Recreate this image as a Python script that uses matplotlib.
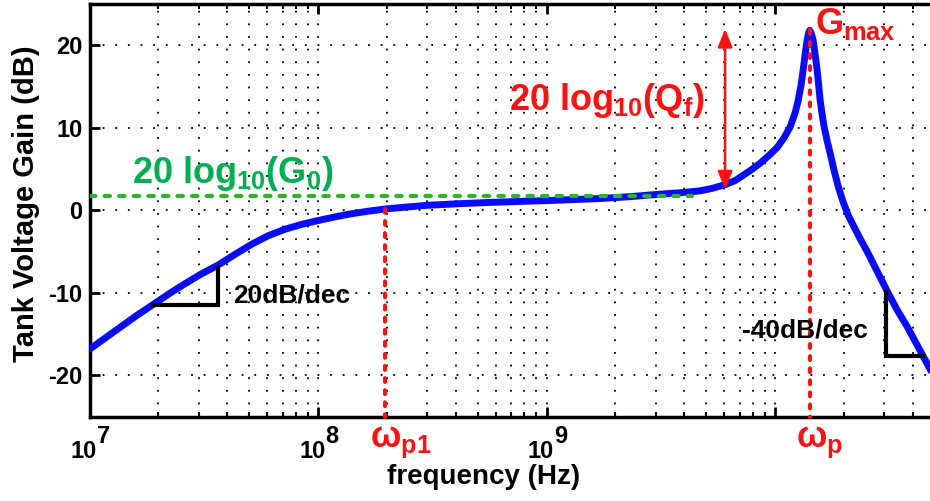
import matplotlib
matplotlib.use('Agg')
import matplotlib.pyplot as plt
from matplotlib.ticker import LogLocator, NullFormatter

plt.rcParams['font.family'] = ['Liberation Sans', 'DejaVu Sans']
plt.rcParams['font.weight'] = 'bold'
plt.rcParams['mathtext.fontset'] = 'custom'
plt.rcParams['mathtext.rm'] = 'Liberation Sans:bold'
plt.rcParams['mathtext.it'] = 'Liberation Sans:bold'
plt.rcParams['mathtext.bf'] = 'Liberation Sans:bold'
plt.rcParams['axes.unicode_minus'] = False

# ---- data ----
freq_hz = [1.000e7, 1.17e7, 1.36e7, 1.61e7, 1.94e7, 2.25e7, 2.62e7, 3.05e7,
           3.65e7, 4.33e7, 5.14e7, 6.04e7, 7.17e7, 8.51e7, 1.000e8, 1.187e8,
           1.380e8, 1.655e8, 1.965e8, 2.452e8, 3.091e8, 4.182e8, 5.657e8,
           7.656e8, 1.005e9, 1.333e9, 1.715e9, 2.320e9, 3.139e9, 3.839e9,
           4.697e9, 5.301e9, 6.042e9, 6.683e9, 7.029e9, 7.775e9, 8.600e9,
           9.320e9, 1.020e10, 1.095e10, 1.163e10, 1.223e10, 1.261e10,
           1.299e10, 1.326e10, 1.353e10, 1.380e10, 1.401e10, 1.416e10,
           1.437e10, 1.466e10, 1.496e10, 1.527e10, 1.550e10, 1.574e10,
           1.606e10, 1.638e10, 1.689e10, 1.741e10, 1.812e10, 1.887e10,
           1.984e10, 2.087e10, 2.217e10, 2.355e10, 2.527e10, 2.795e10,
           3.092e10, 3.420e10, 3.782e10, 4.100e10, 4.443e10, 5.015e10]
gain_db = [-16.85, -15.5, -14.2, -12.75, -11.25, -10.05, -8.9, -7.8,
           -6.65, -5.35, -4.1, -3.1, -2.3, -1.7, -1.25, -0.8,
           -0.45, -0.12, 0.15, 0.4, 0.62, 0.8, 0.95,
           1.07, 1.17, 1.3, 1.42, 1.65, 1.95, 2.12,
           2.35, 2.65, 3.1, 3.6, 4.0, 4.8, 5.7,
           6.55, 7.6, 8.8, 10.1, 11.8, 13.3,
           15.2, 17.0, 18.9, 20.6, 21.5, 21.8,
           21.5, 20.6, 18.9, 17.0, 15.2, 13.3,
           11.6, 10.1, 8.4, 6.9, 4.8, 2.9,
           1.0, -0.6, -2.05, -3.45, -5.0, -7.4,
           -9.8, -12.1, -14.1, -15.9, -17.7, -20.4]

g0_db = 1.75
g0_span_hz = [1.0e7, 4.34e9]
wp1_hz = 1.965e8
wp1_gain_db = 0.15
wp_hz = 1.416e10
gmax_db = 21.8
qf_arrow_hz = 6.04e9
qf_arrow_db = [2.5, 22.0]
slope1_x = [1.9e7, 3.65e7, 3.65e7]
slope1_y = [-11.5, -11.5, -6.9]
slope2_x = [3.06e10, 3.06e10, 4.45e10]
slope2_y = [-9.96, -17.7, -17.7]

x_decades = [1e7, 1e8, 1e9, 1e10]
x_exponents = ['7', '8', '9', '']
y_ticks = [-20, -10, 0, 10, 20]
y_ticklabels = ['-20', '-10', '0', '10', '20']
x_limits = (1e7, 4.76e10)
y_limits = (-25, 25)

# ---- figure ----
fig = plt.figure(figsize=(9.30, 5.01), dpi=100)
ax = fig.add_axes([89.5 / 930, 1 - 416.5 / 501, 1 - 89.5 / 930, 412.5 / 501])
ax.set_xscale('log')
ax.set_xlim(*x_limits)
ax.set_ylim(*y_limits)

grid_ls = (0, (1, 6))
ax.set_xticks(x_decades)
ax.set_xticklabels([''] * len(x_decades))
ax.xaxis.set_minor_locator(LogLocator(base=10, subs=range(2, 10)))
ax.xaxis.set_minor_formatter(NullFormatter())
ax.set_yticks(y_ticks)
ax.set_yticklabels(y_ticklabels, fontsize=17, fontweight='bold')
ax.grid(which='major', axis='both', color='black', lw=1.3, ls=grid_ls)
ax.grid(which='minor', axis='x', color='black', lw=1.3, ls=grid_ls)

for s in ['left', 'top', 'bottom']:
    ax.spines[s].set_linewidth(2.5)
ax.spines['right'].set_visible(False)
ax.tick_params(which='major', direction='in', length=7, width=2, top=True,
               right=False, pad=5)
ax.tick_params(which='minor', direction='in', length=3.6, width=1.5, top=True,
               right=False)

# x tick labels in "10 + raised exponent" style
for d, e in zip(x_decades, x_exponents):
    if not e:
        continue
    ax.annotate('10', xy=(d, 0), xycoords=('data', 'axes fraction'),
                xytext=(5.4, -30.2), textcoords='offset points',
                ha='right', va='baseline', fontsize=17, fontweight='bold',
                annotation_clip=False)
    ax.annotate(e, xy=(d, 0), xycoords=('data', 'axes fraction'),
                xytext=(5.4, -19.3), textcoords='offset points',
                ha='left', va='baseline', fontsize=17, fontweight='bold',
                annotation_clip=False)

# main curve
ax.plot(freq_hz, gain_db, color='#0a0aff', lw=5, solid_joinstyle='round',
        solid_capstyle='round', zorder=3)

# G0 dashed line
ax.plot(g0_span_hz, [g0_db, g0_db], color='#2ab52a', lw=3,
        ls=(0, (1.3, 2.2)), dash_capstyle='round', zorder=4)

# pole markers
ax.plot([wp1_hz, wp1_hz], [wp1_gain_db, y_limits[0]], color='#ff1010', lw=3,
        ls=(0, (0.9, 2.0)), dash_capstyle='round', zorder=4, clip_on=False)
ax.plot([wp_hz, wp_hz], [gmax_db, y_limits[0]], color='#ff1010', lw=3,
        ls=(0, (0.9, 2.0)), dash_capstyle='round', zorder=5, clip_on=False)

# Qf arrow
ax.annotate('', xy=(qf_arrow_hz, qf_arrow_db[0]),
            xytext=(qf_arrow_hz, qf_arrow_db[1]),
            arrowprops=dict(arrowstyle='<|-|>,head_length=0.55,head_width=0.22',
                            color='#ff1010', lw=1.8, shrinkA=0, shrinkB=0,
                            mutation_scale=20), zorder=5)

# slope triangles
ax.plot(slope1_x, slope1_y, color='black', lw=3, solid_joinstyle='miter',
        zorder=4)
ax.plot(slope2_x, slope2_y, color='black', lw=3, solid_joinstyle='miter',
        zorder=4)

# annotations
ax.text(1.535e7, 3.32, r'20 log$_{\mathrm{10}}$(G$_{\mathrm{0}}$)',
        color='#00b050', fontsize=26, fontweight='bold', ha='left',
        va='baseline', zorder=6)
ax.text(6.86e8, 12.13, r'20 log$_{\mathrm{10}}$(Q$_{\mathrm{f}}$)',
        color='#ff1010', fontsize=26, fontweight='bold', ha='left',
        va='baseline', zorder=6)
ax.text(1.50e10, 21.4, r'G$_{\mathrm{max}}$', color='#ff1010', fontsize=26,
        fontweight='bold', ha='left', va='baseline', zorder=6)
ax.text(4.25e7, -11.2, '20dB/dec', color='black', fontsize=19,
        fontweight='bold', ha='left', va='baseline', zorder=6)
ax.text(7.18e9, -15.4, '-40dB/dec', color='black', fontsize=19,
        fontweight='bold', ha='left', va='baseline', zorder=6)

ax.annotate(r'ω$_{\mathrm{p1}}$', xy=(wp1_hz, 0),
            xycoords=('data', 'axes fraction'), xytext=(11.5, -22),
            textcoords='offset points', ha='center', va='baseline',
            color='#ff1010', fontsize=26, fontweight='bold',
            annotation_clip=False)
ax.annotate(r'ω$_{\mathrm{p}}$', xy=(wp_hz, 0),
            xycoords=('data', 'axes fraction'), xytext=(7, -22),
            textcoords='offset points', ha='center', va='baseline',
            color='#ff1010', fontsize=26, fontweight='bold',
            annotation_clip=False)

fig.text(483.5 / 930, 1 - 484 / 501, 'frequency (Hz)', fontsize=20,
         fontweight='bold', ha='center', va='baseline')
fig.text(26 / 930, 1 - 203.5 / 501, 'Tank Voltage Gain (dB)', fontsize=21,
         fontweight='bold', ha='center', va='center', rotation=90)

fig.savefig('out.png', dpi=100)
